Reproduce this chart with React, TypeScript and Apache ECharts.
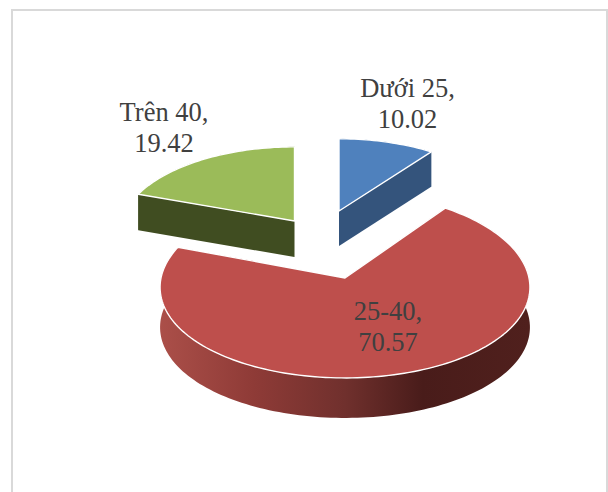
import React, { useEffect, useRef } from "react";
import * as echarts from "echarts";

const categories = ["Dưới 25", "25-40", "Trên 40"];
const values = [10.02, 70.57, 19.42];

const topColors = ["#4F81BD", "#BE4F4C", "#9BBB59"];
const sideColors = ["#34547C", "#7A302C", "#404D21"];

// Drawing layout of each slice: apex on screen, perspective scale, wall depth, label centre
const sliceLayouts = [
  { ax: 339, ay: 211, sx: 0.92, sy: 0.847, depth: 35, lx: 407.5, ly: 103 },
  { ax: 345, ay: 278, sx: 1, sy: 1, depth: 40, lx: 388, ly: 326 },
  { ax: 294.5, ay: 221, sx: 0.935, sy: 0.87, depth: 36, lx: 164, ly: 127 },
];

const RADIUS_X = 184;
const RADIUS_Y = 92;
const PERSPECTIVE_X = 0.1;
const PERSPECTIVE_Y = 0.0794;

const total = values.reduce((s, v) => s + v, 0);

function project(deg: number, l: (typeof sliceLayouts)[number]): number[] {
  const a = (deg * Math.PI) / 180;
  const xn = Math.sin(a);
  const yn = Math.cos(a);
  return [
    l.ax + (l.sx * RADIUS_X * xn) / (1 + PERSPECTIVE_X * yn),
    l.ay - (l.sy * RADIUS_Y * yn) / (1 + PERSPECTIVE_Y * yn),
  ];
}

function arc(from: number, to: number, l: (typeof sliceLayouts)[number]): number[][] {
  const n = Math.max(2, Math.ceil((to - from) / 1.5));
  const pts: number[][] = [];
  for (let i = 0; i <= n; i++) pts.push(project(from + ((to - from) * i) / n, l));
  return pts;
}

const down = (pts: number[][], d: number) => pts.map((p) => [p[0], p[1] + d]);

const redWall = new echarts.graphic.LinearGradient(0, 0, 1, 0, [
  { offset: 0, color: "#AB4F49" },
  { offset: 0.25, color: "#8F3B37" },
  { offset: 0.5, color: "#70302D" },
  { offset: 0.71, color: "#491C1A" },
  { offset: 1, color: "#50201D" },
]);

function renderSlice(params: any, api: any) {
  const i = params.dataIndex;
  const l = sliceLayouts[i];
  let before = 0;
  for (let k = 0; k < i; k++) before += values[k];
  const value = api.value(0);
  const start = (before / total) * 360;
  const end = ((before + value) / total) * 360;
  const rim = arc(start, end, l);
  const apex = [l.ax, l.ay];
  const wallFill = i === 1 ? redWall : sideColors[i];
  const face = (p: number[]) => [apex, p, [p[0], p[1] + l.depth], [apex[0], apex[1] + l.depth]];
  return {
    type: "group",
    children: [
      {
        type: "polygon",
        shape: { points: rim.concat(down(rim, l.depth).reverse()) },
        style: { fill: wallFill },
      },
      { type: "polygon", shape: { points: face(rim[0]) }, style: { fill: sideColors[i] } },
      { type: "polygon", shape: { points: face(rim[rim.length - 1]) }, style: { fill: sideColors[i] } },
      {
        type: "polygon",
        shape: { points: [apex].concat(rim) },
        style: { fill: topColors[i], stroke: "#FFFFFF", lineWidth: 1.4, lineJoin: "round" },
      },
      {
        type: "text",
        x: l.lx,
        y: l.ly,
        style: {
          text: `${categories[i]},\n${value.toFixed(2)}`,
          fill: "#404040",
          font: '26.5px "Liberation Serif"',
          lineHeight: 31,
          align: "center",
          verticalAlign: "middle",
        },
      },
    ],
  };
}

export default function App() {
  const ref = useRef<HTMLDivElement>(null);
  useEffect(() => {
    const chart = echarts.init(ref.current!, null, { renderer: "svg" });
    chart.setOption({
      animation: false,
      backgroundColor: "#FFFFFF",
      graphic: [
        {
          type: "polyline",
          shape: { points: [[12, 492], [12, 10], [607, 10], [607, 492]] },
          style: { fill: "none", stroke: "#D9D9D9", lineWidth: 2 },
        },
      ],
      series: [
        {
          type: "custom",
          coordinateSystem: "none",
          silent: true,
          renderItem: renderSlice,
          data: values.map((v, i) => ({ name: categories[i], value: [v] })),
        },
      ],
    });
    return () => chart.dispose();
  }, []);
  return <div ref={ref} style={{ position: "fixed", left: 0, top: 0, width: 608, height: 492 }} />;
}
